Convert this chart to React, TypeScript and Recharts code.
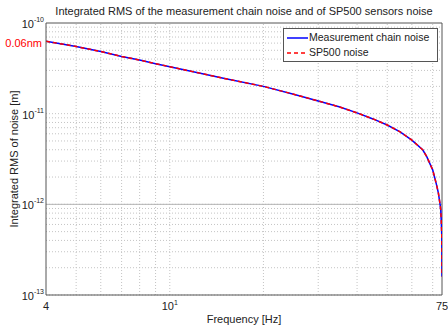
import React from 'react';
import { LineChart, Line, XAxis, YAxis, ReferenceLine, Legend, Label } from 'recharts';

// Frequencies [Hz]
const freqs = [4, 5, 6, 7, 8, 9, 10, 12, 15, 20, 25, 30, 35, 40, 45, 50, 55, 60, 65, 67, 70, 72, 73, 74, 74.3, 74.6, 74.9, 74.97, 75];
// Integrated RMS of noise [m]
const chainNoise = [6.3e-11, 5.5e-11, 4.85e-11, 4.28e-11, 3.9e-11, 3.56e-11, 3.3e-11, 2.88e-11, 2.44e-11, 2.0e-11, 1.64e-11, 1.38e-11, 1.19e-11, 1.02e-11, 8.75e-12, 7.5e-12, 6.3e-12, 5.1e-12, 4.0e-12, 3.36e-12, 2.4e-12, 1.65e-12, 1.34e-12, 9.8e-13, 8.7e-13, 6.5e-13, 4.4e-13, 2.5e-13, 1.6e-13];
const sp500Noise = [6.3e-11, 5.5e-11, 4.85e-11, 4.28e-11, 3.9e-11, 3.56e-11, 3.3e-11, 2.88e-11, 2.44e-11, 2.0e-11, 1.64e-11, 1.38e-11, 1.19e-11, 1.02e-11, 8.75e-12, 7.5e-12, 6.3e-12, 5.1e-12, 4.0e-12, 3.36e-12, 2.4e-12, 1.65e-12, 1.34e-12, 9.8e-13, 8.7e-13, 6.5e-13, 4.4e-13, 2.5e-13, 1.6e-13];

const xTicks = [4, 10, 75];
const yTicks = [1e-13, 1e-12, 1e-11, 6e-11, 1e-10];
const markValue = 6e-11;
const markLabel = '0.06nm';
const xGrid = [5, 6, 7, 8, 9, 10, 20, 30, 40, 50, 60, 70];
const yGridMantissa = [1, 2, 3, 4, 5, 6, 7, 8, 9];
const yGridDecades = [1e-13, 1e-12, 1e-11];

const data = freqs.map((f, i) => ({ f, chain: chainNoise[i], sp500: sp500Noise[i] }));
const yGrid: number[] = [];
yGridDecades.forEach((d) => yGridMantissa.forEach((m) => yGrid.push(m * d)));

const FONT = '"Liberation Sans", Arial, sans-serif';
const TXT = '#222';

const YTick = (props: any) => {
  const { x, y, payload } = props;
  const v = payload.value;
  if (Math.abs(v - markValue) / markValue < 1e-6) {
    return (
      <text x={x - 2} y={y} dy={4} textAnchor="end" fill="#ff0000" fontSize={11} fontFamily={FONT}>
        {markLabel}
      </text>
    );
  }
  const exp = Math.round(Math.log10(v));
  return (
    <text x={x} y={y} dy={5} textAnchor="end" fill={TXT} fontSize={11} fontFamily={FONT}>
      10<tspan dy={-6} fontSize={7}>{String(exp)}</tspan>
    </text>
  );
};

const XTick = (props: any) => {
  const { x, y, payload } = props;
  const v = payload.value;
  if (v === 10) {
    return (
      <text x={x} y={y} dy={8} textAnchor="middle" fill={TXT} fontSize={11} fontFamily={FONT}>
        10<tspan dy={-5} fontSize={7}>1</tspan>
      </text>
    );
  }
  return (
    <text x={x} y={y} dy={8} textAnchor="middle" fill={TXT} fontSize={11} fontFamily={FONT}>
      {String(v)}
    </text>
  );
};

const renderLegend = () => (
  <div
    style={{
      border: '1px solid #555',
      background: '#fff',
      fontFamily: FONT,
      fontSize: 10.5,
      color: TXT,
      padding: '1px 3px 1px 3px',
      lineHeight: '15px',
      boxSizing: 'border-box',
      width: 155,
      whiteSpace: 'nowrap',
    }}
  >
    <div style={{ display: 'flex', alignItems: 'center' }}>
      <svg width={21} height={8} style={{ marginRight: 1, flex: 'none' }}>
        <line x1={0} y1={4} x2={21} y2={4} stroke="#0000ff" strokeWidth={1.5} />
      </svg>
      <span>Measurement chain noise</span>
    </div>
    <div style={{ display: 'flex', alignItems: 'center' }}>
      <svg width={21} height={8} style={{ marginRight: 1, flex: 'none' }}>
        <line x1={0} y1={4} x2={21} y2={4} stroke="#ff0000" strokeWidth={1.5} strokeDasharray="4 3" />
      </svg>
      <span>SP500 noise</span>
    </div>
  </div>
);

export default function App() {
  return (
    <div style={{ position: 'absolute', left: 0, top: 0, width: 448, height: 326, background: '#fff', overflow: 'hidden' }}>
      <div
        style={{
          position: 'absolute',
          left: 44,
          top: 5,
          width: 400,
          textAlign: 'center',
          fontFamily: FONT,
          fontSize: 11,
          lineHeight: '13px',
          color: TXT,
          whiteSpace: 'nowrap',
        }}
      >
        Integrated RMS of the measurement chain noise and of SP500 sensors noise
      </div>
      <LineChart width={448} height={326} data={data} margin={{ top: 23, right: 6, bottom: 0, left: 6 }}>
        <XAxis
          dataKey="f"
          type="number"
          scale="log"
          domain={[4, 75]}
          ticks={xTicks}
          allowDataOverflow
          height={31}
          tickLine={false}
          tickSize={0}
          tickMargin={7}
          tick={<XTick />}
          stroke="#555"
          interval={0}
        >
          <Label
            content={(p: any) => {
              const vb = p.viewBox || {};
              const cx = vb.x + vb.width / 2;
              return (
                <text x={cx} y={vb.y + 28} textAnchor="middle" fill={TXT} fontSize={11} fontFamily={FONT}>
                  Frequency [Hz]
                </text>
              );
            }}
          />
        </XAxis>
        <YAxis
          type="number"
          scale="log"
          domain={[1e-13, 1e-10]}
          ticks={yTicks}
          allowDataOverflow
          width={40}
          tickLine={false}
          tickSize={0}
          tickMargin={2}
          tick={<YTick />}
          stroke="#555"
          interval={0}
        >
          <Label
            content={(p: any) => {
              const vb = p.viewBox || {};
              const cy = vb.y + vb.height / 2;
              return (
                <text
                  x={14}
                  y={cy}
                  transform={`rotate(-90, 14, ${cy})`}
                  textAnchor="middle"
                  dominantBaseline="central"
                  fill={TXT}
                  fontSize={11}
                  fontFamily={FONT}
                >
                  Integrated RMS of noise [m]
                </text>
              );
            }}
          />
        </YAxis>
        {yGrid.map((v) => (
          <ReferenceLine key={'y' + v} y={v} stroke="#c4c4c4" strokeDasharray="1 2" strokeWidth={1} />
        ))}
        {xGrid.map((v) => (
          <ReferenceLine key={'x' + v} x={v} stroke="#c4c4c4" strokeDasharray="1 2" strokeWidth={1} />
        ))}
        <ReferenceLine y={1e-12} stroke="#b4b4b4" strokeWidth={1} />
        <ReferenceLine y={1e-10} stroke="#555" strokeWidth={1} />
        <ReferenceLine x={75} stroke="#555" strokeWidth={1} />
        <Line
          type="linear"
          dataKey="chain"
          name="Measurement chain noise"
          stroke="#0000ff"
          strokeWidth={1.5}
          dot={false}
          isAnimationActive={false}
        />
        <Line
          type="linear"
          dataKey="sp500"
          name="SP500 noise"
          stroke="#ff0000"
          strokeWidth={1.5}
          strokeDasharray="4 3"
          dot={false}
          isAnimationActive={false}
        />
        <Legend
          layout="horizontal"
          verticalAlign="middle"
          align="center"
          wrapperStyle={{ top: 28, left: 283, width: 155, height: 33 }}
          content={renderLegend}
        />
      </LineChart>
    </div>
  );
}
